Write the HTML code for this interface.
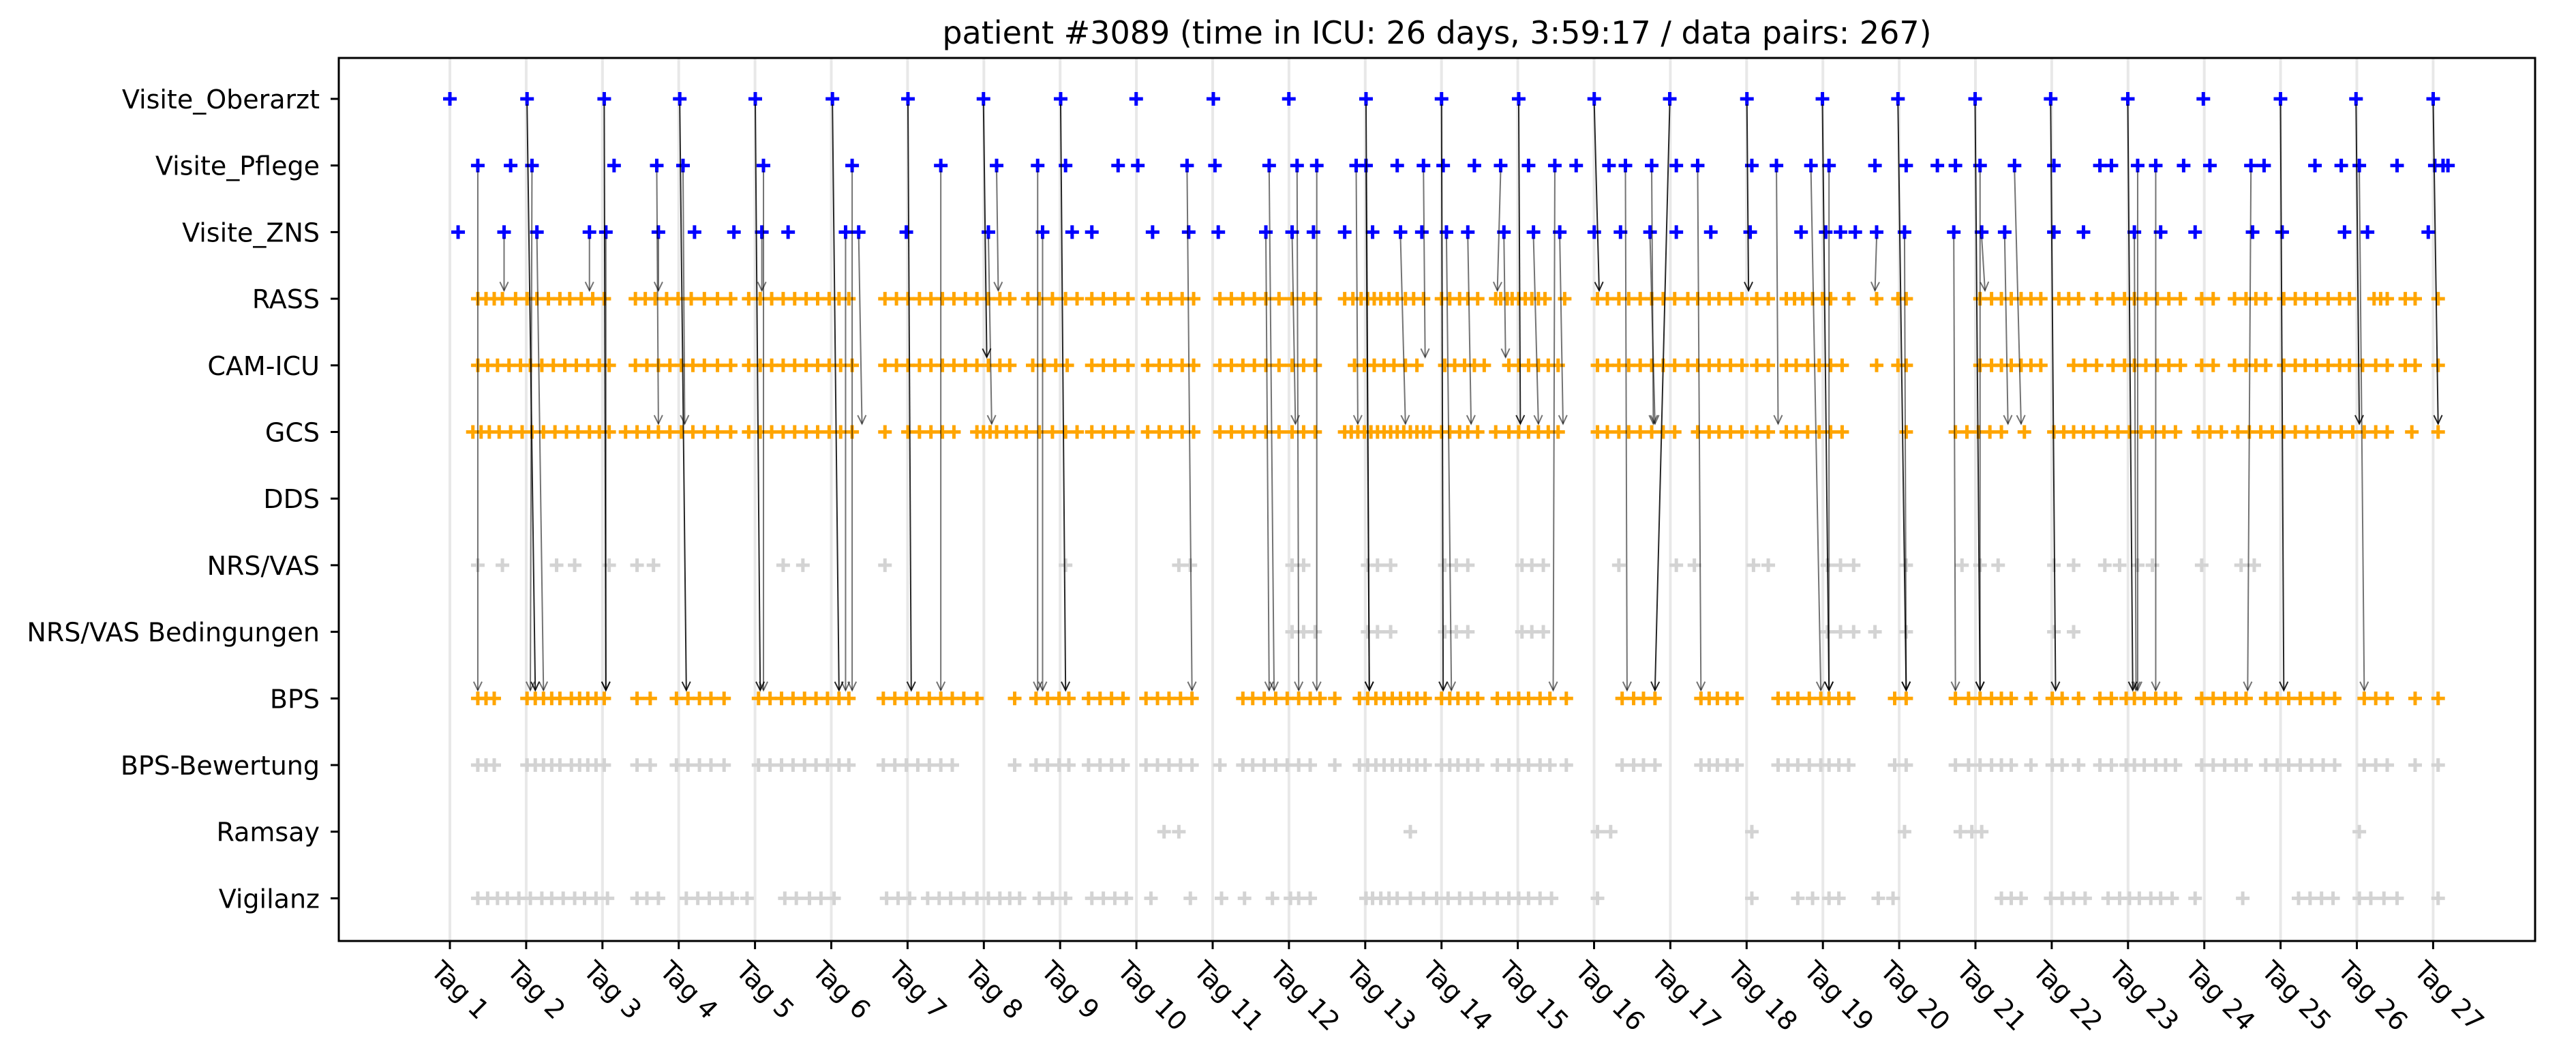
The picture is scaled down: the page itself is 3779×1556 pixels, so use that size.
<!DOCTYPE html>
<html><head><meta charset="utf-8"><style>
html,body{margin:0;padding:0;background:#fff;}
svg{display:block;font-family:"DejaVu Sans","Liberation Sans",sans-serif;}
</style></head><body>
<svg id="chart" width="3779" height="1556" viewBox="0 0 3779 1556" xmlns="http://www.w3.org/2000/svg">
<rect x="0" y="0" width="3779" height="1556" fill="#fff"/>
<text x="2108" y="64" font-size="46" text-anchor="middle">patient #3089 (time in ICU: 26 days, 3:59:17 / data pairs: 267)</text>
<g id="grid"></g><g id="marks"></g><g id="arrows"></g><g id="axes"></g>
</svg>
<script>
// time values in ticks (TICKS_PER_DAY per day), measured from ORIGIN
const ORIGIN = 273;
const TICKS_PER_DAY = 46.46;
const categories = ["Visite_Oberarzt","Visite_Pflege","Visite_ZNS","RASS","CAM-ICU","GCS","DDS","NRS/VAS","NRS/VAS Bedingungen","BPS","BPS-Bewertung","Ramsay","Vigilanz"];
const dayLabels = ["Tag 1","Tag 2","Tag 3","Tag 4","Tag 5","Tag 6","Tag 7","Tag 8","Tag 9","Tag 10","Tag 11","Tag 12","Tag 13","Tag 14","Tag 15","Tag 16","Tag 17","Tag 18","Tag 19","Tag 20","Tag 21","Tag 22","Tag 23","Tag 24","Tag 25","Tag 26","Tag 27"];
const oberarzt = [273,320,367,413,459,506,552,598,645,691,738,784,831,877,924,970,1016,1063,1109,1155,1202,1248,1295,1341,1388,1434,1481];
const pflege = [290,310,323,373,399,415,464,518,572,606,631,648,680,692,722,739,772,789,801,825,831,850,866,878,897,913,930,946,959,979,989,1005,1020,1033,1066,1081,1102,1113,1141,1160,1179,1190,1205,1226,1250,1278,1285,1301,1312,1329,1345,1370,1378,1409,1425,1436,1459,1482,1487,1490];
const zns = [278,306,326,358,368,400,422,446,463,479,514,522,551,601,634,652,664,701,723,741,770,786,799,818,835,852,865,880,893,915,933,949,970,986,1004,1020,1041,1065,1096,1111,1120,1129,1142,1159,1189,1206,1220,1250,1268,1299,1315,1336,1371,1389,1427,1441,1478];
const rass = [290,295,300,305,313,320,326,333,340,346,353,360,367,386,392,398,405,412,420,428,436,444,455,462,469,476,483,490,497,504,510,516,538,545,552,559,566,573,580,587,594,601,608,614,625,632,640,648,655,664,671,678,686,698,705,712,719,726,742,749,756,763,770,778,786,793,800,818,823,828,832,836,840,845,850,855,860,866,877,882,888,893,899,910,913,917,920,924,928,932,936,940,952,972,978,985,991,998,1005,1012,1019,1027,1033,1040,1046,1053,1060,1069,1076,1087,1092,1097,1103,1109,1114,1125,1142,1155,1160,1205,1212,1218,1224,1230,1236,1242,1253,1259,1265,1276,1286,1293,1299,1306,1313,1320,1327,1340,1347,1360,1367,1373,1379,1390,1397,1403,1410,1417,1424,1430,1445,1449,1453,1464,1470,1484];
const camicu = [290,296,302,309,316,322,329,336,343,350,357,364,370,386,393,400,407,414,421,428,436,444,455,462,469,476,483,490,497,504,511,518,538,545,552,559,566,573,580,587,594,601,608,614,628,635,642,649,664,671,678,686,698,705,712,719,726,742,749,756,763,770,778,786,793,800,824,830,836,842,848,855,862,879,885,891,897,903,918,924,930,936,942,948,972,978,985,991,998,1005,1012,1019,1027,1033,1040,1046,1053,1060,1069,1076,1087,1093,1100,1107,1114,1121,1142,1155,1160,1205,1212,1218,1224,1230,1236,1242,1262,1269,1276,1286,1293,1299,1306,1313,1320,1327,1340,1347,1360,1367,1373,1379,1390,1397,1403,1410,1417,1424,1430,1438,1446,1453,1464,1470,1484];
const gcs = [287,292,297,303,310,317,323,330,337,344,351,358,364,370,380,387,394,400,407,414,421,428,436,444,455,462,469,476,483,490,497,504,511,518,538,552,559,566,573,580,594,598,602,606,612,618,624,632,640,648,655,664,671,678,686,698,705,712,719,726,742,749,756,763,770,778,786,793,800,818,822,826,830,834,838,842,846,850,854,858,862,866,870,877,882,888,893,899,910,918,924,930,936,942,948,972,978,985,991,998,1005,1012,1019,1033,1040,1046,1053,1060,1069,1076,1087,1093,1100,1107,1114,1121,1160,1190,1197,1204,1211,1218,1232,1250,1256,1262,1268,1274,1282,1289,1296,1303,1310,1317,1324,1338,1345,1352,1362,1369,1376,1383,1390,1397,1404,1411,1418,1425,1432,1439,1446,1453,1468,1484];
const dds = [];
const nrsvas = [290,305,338,349,370,387,397,476,488,538,648,717,724,786,793,832,838,846,879,886,893,926,932,939,985,1020,1031,1067,1076,1112,1120,1128,1160,1194,1205,1216,1250,1262,1281,1290,1301,1310,1340,1364,1372];
const nrsvasBed = [786,793,800,832,838,846,879,886,893,926,932,939,1112,1120,1128,1141,1160,1250,1262];
const bps = [290,295,300,320,325,330,335,340,347,352,357,362,367,387,395,411,418,425,432,440,461,468,475,482,489,496,503,510,516,537,544,551,558,565,572,579,586,594,617,630,637,644,650,662,669,676,683,697,704,711,718,725,756,762,769,776,783,790,797,803,812,827,832,837,842,847,852,857,862,867,877,882,887,893,899,911,918,924,930,937,943,953,987,994,1000,1007,1035,1040,1045,1051,1057,1082,1088,1094,1101,1108,1113,1119,1125,1153,1160,1190,1198,1205,1212,1218,1224,1236,1249,1255,1265,1278,1285,1294,1299,1305,1312,1318,1324,1340,1347,1354,1361,1367,1379,1386,1393,1400,1407,1414,1421,1439,1446,1453,1470,1484];
const bpsBew = [290,295,300,320,325,330,335,340,347,352,357,362,367,387,395,411,418,425,432,440,461,468,475,482,489,496,503,510,516,537,544,551,558,565,572,579,617,630,637,644,650,662,669,676,683,697,704,711,718,725,742,756,762,769,776,783,790,797,812,827,832,837,842,847,852,857,862,867,877,882,887,893,899,911,918,924,930,937,943,953,987,994,1000,1007,1035,1040,1045,1051,1057,1082,1088,1094,1101,1108,1113,1119,1125,1153,1160,1190,1198,1205,1212,1218,1224,1236,1249,1255,1265,1278,1285,1294,1299,1305,1312,1318,1324,1340,1347,1354,1361,1367,1379,1386,1393,1400,1407,1414,1421,1439,1446,1453,1470,1484];
const ramsay = [708,717,858,972,980,1066,1159,1193,1200,1206,1436];
const vigilanz = [290,296,302,308,315,322,329,335,342,349,355,362,369,387,393,400,417,424,431,438,445,454,477,484,492,499,507,539,546,553,564,571,578,586,594,601,608,614,620,632,640,648,664,671,678,685,700,724,743,757,774,785,790,797,831,835,840,845,850,858,866,874,881,888,895,903,911,918,924,930,937,944,972,1066,1094,1103,1113,1119,1143,1152,1218,1224,1230,1248,1255,1262,1269,1283,1290,1296,1302,1309,1315,1322,1336,1365,1399,1406,1413,1420,1436,1443,1451,1459,1484];
// arrow pairs: [fromRow, fromTime, toRow, toTime]
const arrowFromRow = [0,0,0,0,0,0,0,0,0,0,0,0,0,0,0,0,0,0,0,0,0,0, 1,1,1,1,1,1,1,1,1,1,1,1,1,1,1,1,1,1,1,1,1,1,1,1,1,1,1,1,1,1, 2,2,2,2,2,2,2,2,2,2,2,2,2,2,2,2,2,2,2,2,2,2,2,2,2];
const arrowFromT = [320,367,413,459,506,552,598,645,831,877,924,970,1016,1063,1109,1155,1202,1248,1295,1388,1434,1481, 290,323,399,415,464,518,572,606,631,722,772,789,801,825,831,866,913,946,989,1005,1033,1081,1102,1113,1205,1226,1301,1312,1370,1436, 306,326,358,368,400,463,514,522,601,634,770,786,852,880,893,915,933,949,1004,1142,1159,1189,1206,1220,1299];
const arrowToRow = [9,9,9,9,9,9,4,9,9,9,5,3,9,3,9,9,9,9,9,9,5,5, 9,9,5,5,9,9,9,3,9,9,9,9,9,5,9,4,3,9,9,5,9,5,9,9,9,5,9,9,9,9, 3,9,3,9,3,3,9,5,5,9,9,5,5,9,5,4,5,5,5,3,9,9,3,5,9];
const arrowToT = [325,368,417,462,510,554,600,648,833,878,925,973,1007,1064,1113,1160,1205,1251,1298,1390,1436,1484, 290,322,400,416,464,518,572,607,631,725,775,790,801,826,833,867,911,945,990,1006,1035,1082,1108,1113,1205,1230,1301,1312,1368,1439, 306,330,358,368,400,463,514,524,603,634,772,788,855,883,895,916,936,951,1007,1141,1160,1190,1208,1222,1300];

const NS = "http://www.w3.org/2000/svg";
const L = 497, R = 3719, T = 85, B = 1380;
const X0 = 660, DAYPX = 111.9, Y0 = 145, ROWPX = 97.7;
function xScale(v){ return X0 + (v - ORIGIN) / TICKS_PER_DAY * DAYPX; }
function yScale(i){ return Y0 + i * ROWPX; }
function mk(tag, attrs, parent){ const e = document.createElementNS(NS, tag); for (const k in attrs) e.setAttribute(k, attrs[k]); parent.appendChild(e); return e; }
const grid = document.getElementById('grid'), marks = document.getElementById('marks'), arrows = document.getElementById('arrows'), axes = document.getElementById('axes');

dayLabels.forEach((lab, d) => {
  const x = X0 + d * DAYPX;
  const g = mk('line', {x1:x, x2:x, y1:T, y2:B, stroke:'#e8e8e8', 'stroke-width':4}, grid);
  
  
  const t = mk('line', {x1:x, x2:x, y1:B, y2:B+12, stroke:'#000', 'stroke-width':3}, axes);
  
  
  const tx = mk('text', {transform:`translate(${x-10},${1406}) rotate(45)`, 'font-size':38, 'dominant-baseline':'hanging'}, axes);
  tx.textContent = lab;
  
  
});

categories.forEach((c, i) => {
  const y = yScale(i);
  const t = mk('line', {x1:L-12, x2:L, y1:y, y2:y, stroke:'#000', 'stroke-width':3}, axes);
  
  
  const tx = mk('text', {x:L-28, y:y+14, 'font-size':38, 'text-anchor':'end'}, axes);
  tx.textContent = c;
  
  
});

const series = [[oberarzt,'#0000ff'],[pflege,'#0000ff'],[zns,'#0000ff'],[rass,'#ffa500'],[camicu,'#ffa500'],[gcs,'#ffa500'],[dds,'#ffa500'],[nrsvas,'#d3d3d3'],[nrsvasBed,'#d3d3d3'],[bps,'#ffa500'],[bpsBew,'#d3d3d3'],[ramsay,'#d3d3d3'],[vigilanz,'#d3d3d3']];
series.forEach(([vals, col], i) => {
  const y = yScale(i);
  vals.forEach(v => {
    const x = xScale(v);
    const p = mk('path', {d:`M${x-10},${y}H${x+10}M${x},${y-10}V${y+10}`, stroke:col, 'stroke-width':5, fill:'none'}, marks);
    
    
  });
});

arrowFromT.forEach((ft, k) => {
  const x1 = xScale(ft), y1 = yScale(arrowFromRow[k]) + 8;
  const x2 = xScale(arrowToT[k]), y2 = yScale(arrowToRow[k]) - 12;
  const op = arrowFromRow[k] === 0 ? 0.85 : 0.55;
  const ln = mk('line', {x1:x1, y1:y1, x2:x2, y2:y2, stroke:'#000', 'stroke-width':2, 'stroke-opacity':op}, arrows);
  
  
  const ang = Math.atan2(y2 - y1, x2 - x1);
  const a1 = ang + Math.PI - 0.45, a2 = ang + Math.PI + 0.45, h = 14;
  const hd = mk('path', {d:`M${x2+h*Math.cos(a1)},${y2+h*Math.sin(a1)}L${x2},${y2}L${x2+h*Math.cos(a2)},${y2+h*Math.sin(a2)}`, stroke:'#000', 'stroke-width':2, 'stroke-opacity':op, fill:'none'}, arrows);
  
  
});

const frame = mk('rect', {x:L, y:T, width:R-L, height:B-T, fill:'none', stroke:'#000', 'stroke-width':3}, axes);


</script>
</body></html>
